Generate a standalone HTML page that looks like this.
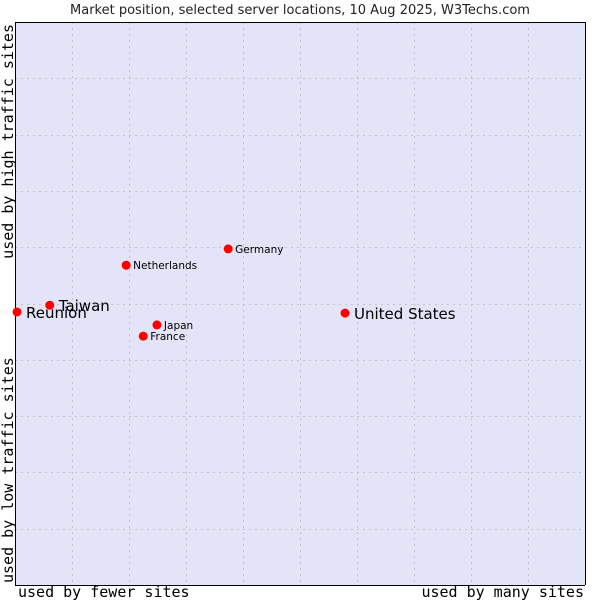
<!DOCTYPE html>
<html><head><meta charset="utf-8"><style>
html,body{margin:0;padding:0;background:#fff;width:600px;height:600px;overflow:hidden}
svg text{font-family:"DejaVu Sans","Liberation Sans",sans-serif}
.mono{font-family:"DejaVu Sans Mono","Liberation Mono",monospace}
</style></head><body>
<svg id="chart" width="600" height="600" xmlns="http://www.w3.org/2000/svg">
<text x="300" y="14" text-anchor="middle" font-size="13" fill="#222">Market position, selected server locations, 10 Aug 2025, W3Techs.com</text>
<rect x="15" y="22" width="570" height="563" fill="#e3e4f8"/>
<g id="grid"></g>
<line x1="15.5" y1="22" x2="15.5" y2="585" stroke="#000"/>
<line x1="15" y1="22.5" x2="585" y2="22.5" stroke="#000"/>
<line x1="15" y1="585.5" x2="585" y2="585.5" stroke="#000"/>
<line x1="585.5" y1="22" x2="585.5" y2="585" stroke="#000"/>
<g id="points"></g>
<text class="mono" x="18" y="597" font-size="15" fill="#000">used by fewer sites</text>
<text class="mono" x="584" y="597" font-size="15" text-anchor="end" fill="#000">used by many sites</text>
<text class="mono" transform="translate(13,24) rotate(-90)" font-size="15" text-anchor="end" fill="#000">used by high traffic sites</text>
<text class="mono" transform="translate(13,583) rotate(-90)" font-size="15" fill="#000">used by low traffic sites</text>
</svg>
<script>
const names = ["Reunion","Taiwan","Netherlands","Japan","France","Germany","United States"];
const xVals = [0.35,6.1,19.5,24.9,22.5,37.4,57.9];
const yVals = [48.5,49.7,56.8,46.2,44.2,59.7,48.3];
const bigLabel = [true,true,false,false,false,false,true];
const X0=15,X1=585,Y0=585,Y1=22;
const sx=v=>X0+(X1-X0)*v/100;
const sy=v=>Y0-(Y0-Y1)*v/100;
const NS="http://www.w3.org/2000/svg";
const grid=document.getElementById('grid');
for(let i=1;i<10;i++){
  const gx=Math.round(X0+57*i)+0.5;
  const l=document.createElementNS(NS,'line');
  
  
  l.setAttribute('x1',gx);l.setAttribute('x2',gx);l.setAttribute('y1',Y1);l.setAttribute('y2',Y0);
  l.setAttribute('stroke','#c4c4c8');l.setAttribute('stroke-dasharray','2,4');
  grid.appendChild(l);
  const gy=Math.round(Y1+56.3*i)+0.5;
  const h=document.createElementNS(NS,'line');
  
  
  h.setAttribute('x1',X0);h.setAttribute('x2',X1);h.setAttribute('y1',gy);h.setAttribute('y2',gy);
  h.setAttribute('stroke','#c4c4c8');h.setAttribute('stroke-dasharray','2,4');
  grid.appendChild(h);
}
const pts=document.getElementById('points');
names.forEach((n,i)=>{
  const cx=sx(xVals[i]),cy=sy(yVals[i]);
  const p=document.createElementNS(NS,'circle');
  
  
  p.setAttribute('cx',cx);p.setAttribute('cy',cy);p.setAttribute('r','4.5');
  p.setAttribute('fill','#ff0000');
  pts.appendChild(p);
  const t=document.createElementNS(NS,'text');
  
  
  t.setAttribute('x',cx+(bigLabel[i]?9:7));
  t.setAttribute('y',cy+(bigLabel[i]?6:4));
  t.setAttribute('font-size',bigLabel[i]?'15':'10.5');
  t.setAttribute('fill','#000');
  t.textContent=n;
  pts.appendChild(t);
});
</script>
</body></html>
